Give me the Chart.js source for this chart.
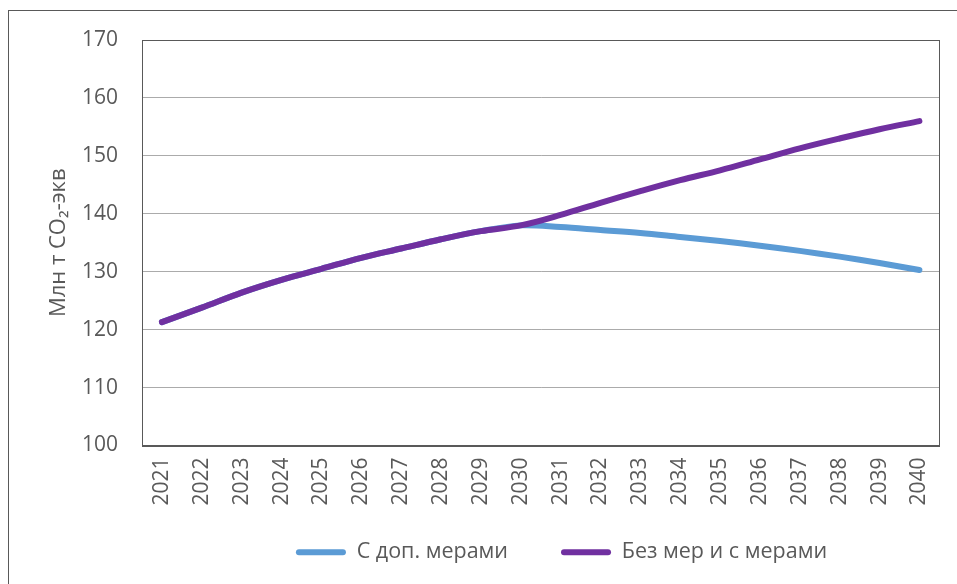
<!DOCTYPE html>
<html>
<head>
<meta charset="utf-8">
<script src="https://cdn.jsdelivr.net/npm/chart.js@4.4.1/dist/chart.umd.min.js"></script>
<style>
  html, body { margin: 0; padding: 0; background: #ffffff; overflow: hidden; }
  #wrap { position: relative; width: 957px; height: 584px; }
  #frame { position: absolute; left: 8px; top: 10px; width: 1000px; height: 1000px;
           border: 1px solid #595959; box-sizing: border-box; pointer-events: none; }
  canvas { position: absolute; left: 0; top: 0; }
</style>
</head>
<body>
<div id="wrap">
  <canvas id="c" width="957" height="584"></canvas>
  <div id="frame"></div>
</div>
<script>
const years = ['2021','2022','2023','2024','2025','2026','2027','2028','2029','2030',
               '2031','2032','2033','2034','2035','2036','2037','2038','2039','2040'];
const withExtraMeasures = [121.3, 123.8, 126.4, 128.6, 130.5, 132.4, 134.0, 135.6, 137.0, 138.0,
                           137.7, 137.2, 136.7, 136.0, 135.3, 134.5, 133.6, 132.6, 131.5, 130.3];
const withoutAndWithMeasures = [121.3, 123.8, 126.4, 128.6, 130.5, 132.4, 134.0, 135.6, 137.0, 138.0,
                                139.8, 141.9, 143.9, 145.8, 147.5, 149.4, 151.3, 153.0, 154.6, 156.0];
const seriesNames = ['С доп. мерами', 'Без мер и с мерами'];
const yTicks = [100, 110, 120, 130, 140, 150, 160, 170];
const yTitle = 'Млн т CO₂-экв';

const FONT = '"Open Sans", "Noto Sans", sans-serif';
const TXT = '#595959';

const plotBorder = {
  id: 'plotBorder',
  afterDraw(chart) {
    const {ctx, chartArea: a} = chart;
    ctx.save();
    ctx.strokeStyle = '#595959';
    ctx.lineWidth = 1;
    ctx.strokeRect(Math.round(a.left) + 0.5, Math.round(a.top) + 0.5,
                   Math.round(a.right - a.left), Math.round(a.bottom - a.top));
    ctx.restore();
  }
};

// shift the legend box to where the original sits (off-centre to the right)
const legendShift = {
  id: 'legendShift',
  afterLayout(chart) {
    const lg = chart.legend;
    if (!lg) return;
    const dx = 91, dy = -23;
    lg.left += dx; lg.right += dx;
    lg.top += dy; lg.bottom += dy;
  }
};

new Chart(document.getElementById('c'), {
  type: 'line',
  data: {
    labels: years,
    datasets: [
      {
        label: seriesNames[0],
        data: withExtraMeasures,
        borderColor: '#5B9BD5',
        backgroundColor: '#5B9BD5',
        borderWidth: 6,
        pointRadius: 0,
        tension: 0.35,
        borderCapStyle: 'round',
        borderJoinStyle: 'round',
        order: 1
      },
      {
        label: seriesNames[1],
        data: withoutAndWithMeasures,
        borderColor: '#7030A0',
        backgroundColor: '#7030A0',
        borderWidth: 6,
        pointRadius: 0,
        tension: 0.35,
        borderCapStyle: 'round',
        borderJoinStyle: 'round',
        order: 0
      }
    ]
  },
  options: {
    responsive: false,
    animation: false,
    events: [],
    layout: { padding: { top: 40, right: 16, left: 0, bottom: -12 } },
    scales: {
      y: {
        min: yTicks[0],
        max: yTicks[yTicks.length - 1],
        afterBuildTicks(scale) { scale.ticks = yTicks.map(v => ({ value: v })); },
        ticks: { font: { family: FONT, size: 21 }, color: TXT, padding: 24 },
        grid: { color: '#ababab', lineWidth: 1, drawTicks: false },
        border: { display: true, color: '#595959', width: 1 },
        title: {
          display: true, text: yTitle, color: TXT,
          font: { family: FONT, size: 22 },
          padding: { top: 46, bottom: 0 }
        },
        afterFit(scale) { scale.width = 142; }
      },
      x: {
        offset: true,
        grid: { display: false, drawTicks: false },
        border: { display: true, color: '#595959', width: 1 },
        ticks: {
          font: { family: FONT, size: 21 }, color: TXT,
          minRotation: 90, maxRotation: 90, padding: 12, autoSkip: false
        },
        afterFit(scale) { scale.height = 66; }
      }
    },
    plugins: {
      tooltip: { enabled: false },
      legend: {
        position: 'bottom',
        labels: {
          font: { family: FONT, size: 21.5 },
          color: TXT,
          boxWidth: 50,
          boxHeight: 6,
          padding: 53,
          useBorderRadius: true,
          borderRadius: 3,
          generateLabels(chart) {
            return chart.data.datasets.map((ds, i) => ({
              text: ds.label,
              fillStyle: ds.borderColor,
              strokeStyle: ds.borderColor,
              lineWidth: 0,
              fontColor: TXT,
              hidden: false,
              datasetIndex: i,
              borderRadius: 3
            }));
          }
        }
      }
    }
  },
  plugins: [plotBorder, legendShift]
});
</script>
</body>
</html>
